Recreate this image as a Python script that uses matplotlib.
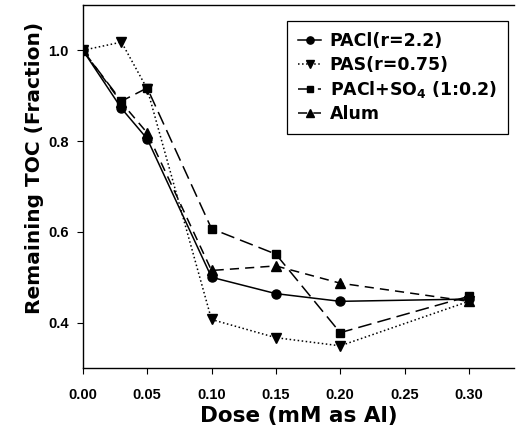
import matplotlib.pyplot as plt

dose = [0.0, 0.03, 0.05, 0.10, 0.15, 0.20, 0.30]
pacl = [1.0, 0.872, 0.805, 0.500, 0.464, 0.447, 0.452]
pas = [1.0, 1.018, 0.915, 0.407, 0.367, 0.349, 0.447]
pacl_so4 = [1.0, 0.888, 0.917, 0.607, 0.551, 0.378, 0.458]
alum = [1.0, 0.885, 0.818, 0.515, 0.525, 0.487, 0.447]

labels = ['PACl(r=2.2)', 'PAS(r=0.75)', r'PACl+SO$_\mathbf{4}$ (1:0.2)', 'Alum']
xticks = [0.0, 0.05, 0.10, 0.15, 0.20, 0.25, 0.30]
yticks = [0.4, 0.6, 0.8, 1.0]

plt.rcParams['font.family'] = ['Liberation Sans', 'DejaVu Sans']
plt.rcParams['font.weight'] = 'bold'
plt.rcParams['mathtext.default'] = 'bf'

fig = plt.figure(figsize=(5.18, 4.44), dpi=100)
ax = fig.add_axes([0.160, 0.171, 0.832, 0.818])

ax.plot(dose, pacl, 'k-', marker='o', ms=6.5, lw=1.1, label=labels[0])
ax.plot(dose, pas, 'k:', marker='v', ms=6.5, lw=1.1, label=labels[1])
ax.plot(dose, pacl_so4, 'k', ls=(0, (9, 4)), marker='s', ms=6, lw=1.1, label=labels[2])
ax.plot(dose, alum, 'k', ls=(0, (6, 4)), marker='^', ms=6.5, lw=1.1, label=labels[3])

ax.set_xlim(0, 0.335)
ax.set_ylim(0.3, 1.1)
ax.set_xticks(xticks)
ax.set_xticklabels(['%.2f' % v for v in xticks])
ax.set_yticks(yticks)
ax.set_yticklabels(['%.1f' % v for v in yticks])
ax.tick_params(direction='out', length=4, width=0.8, labelsize=10.5)
ax.tick_params(axis='x', pad=10)
ax.tick_params(axis='y', pad=6)
ax.spines['right'].set_visible(False)
for s in ['left', 'bottom', 'top']:
    ax.spines[s].set_linewidth(1.0)

ax.set_xlabel('Dose (mM as Al)', family='DejaVu Sans', fontsize=15.5,
              fontweight='bold', labelpad=3)
ax.set_ylabel('Remaining TOC (Fraction)', family='DejaVu Sans', fontsize=14.5,
              fontweight='bold')
ax.yaxis.set_label_coords(-0.09, 0.55)

leg = ax.legend(loc='upper right', bbox_to_anchor=(0.998, 0.972), bbox_transform=fig.transFigure,
                handlelength=1.3, handletextpad=0.5, labelspacing=0.3, markerscale=0.8,
                fancybox=False, framealpha=1, edgecolor='black', borderpad=0.65,
                prop={'family': 'DejaVu Sans', 'weight': 'bold', 'size': 12.5})
leg.get_frame().set_linewidth(0.9)

fig.savefig('out.png', dpi=100)
